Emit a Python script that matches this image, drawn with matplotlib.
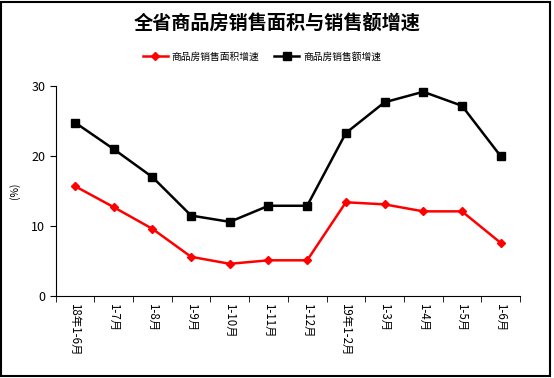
import matplotlib.pyplot as plt
from matplotlib.patches import Rectangle

plt.rcParams['font.family'] = ['Noto Sans CJK SC', 'DejaVu Sans']

months = ['18年1-6月', '1-7月', '1-8月', '1-9月', '1-10月', '1-11月', '1-12月',
          '19年1-2月', '1-3月', '1-4月', '1-5月', '1-6月']
area_growth = [15.7, 12.7, 9.6, 5.6, 4.6, 5.1, 5.1, 13.4, 13.1, 12.1, 12.1, 7.6]
sales_growth = [24.8, 21.0, 17.0, 11.5, 10.6, 12.9, 12.9, 23.3, 27.7, 29.2, 27.2, 20.0]

fig = plt.figure(figsize=(5.54, 3.78), dpi=100)
fig.patches.append(Rectangle((0.002, 0.006), 0.99, 0.99, transform=fig.transFigure,
                             fill=False, edgecolor='black', linewidth=1.5))
ax = fig.add_axes([0.1005, 0.217, 0.8381, 0.555])

x = range(len(months))
ax.plot(x, area_growth, color='#ff0000', lw=1.8, marker='D', ms=4.5,
        label='商品房销售面积增速')
ax.plot(x, sales_growth, color='black', lw=1.8, marker='s', ms=6,
        label='商品房销售额增速')

ax.set_xlim(-0.5, len(months) - 0.5)
ax.set_ylim(0, 30)
ax.set_yticks([0, 10, 20, 30])
ax.tick_params(axis='y', labelsize=9, length=4, direction='out')
ax.set_xticks(list(x))
ax.set_xticklabels(months, rotation=-90, fontsize=8.3)
ax.tick_params(axis='x', which='major', length=0, pad=5)
ax.set_xticks([i - 0.5 for i in range(len(months) + 1)], minor=True)
ax.tick_params(axis='x', which='minor', length=4, direction='out')
for s in ['top', 'right']:
    ax.spines[s].set_visible(False)
ax.set_ylabel('(%)', fontsize=7.5)
ax.yaxis.set_label_coords(-0.077, 0.5)

fig.suptitle('全省商品房销售面积与销售额增速', fontsize=13.8, fontweight='bold', y=0.965)
fig.legend(loc='center', bbox_to_anchor=(0.473, 0.85), ncol=2, frameon=False,
           fontsize=7, handlelength=2.6, columnspacing=1.5, handletextpad=0.4)

plt.savefig('out.png', dpi=100)
